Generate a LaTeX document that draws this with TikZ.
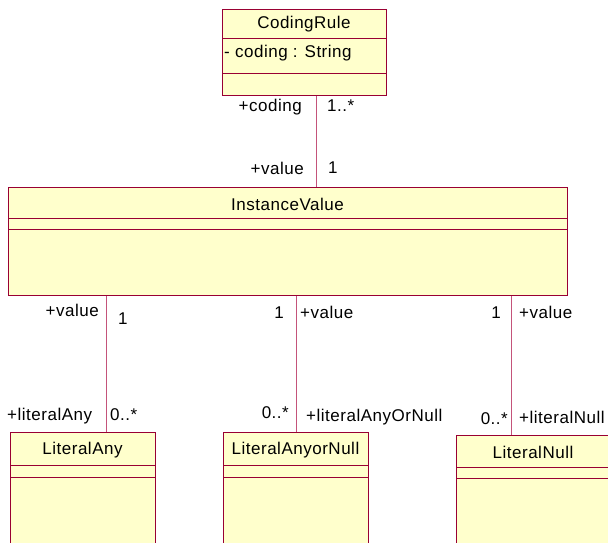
\documentclass[tikz,border=0pt]{standalone}
\usepackage{fontspec}
\setmainfont{Liberation Sans}[LetterSpace=3]
\usepackage{tikz}
\usetikzlibrary{calc}
\usetikzlibrary{positioning}
\usepackage[rgb]{xcolor}

\definecolor{umlfill}{HTML}{FFFFCC}
\definecolor{umlborder}{HTML}{990033}
\definecolor{umlline}{HTML}{C4537A}

\begin{document}
\begin{tikzpicture}[
			x=1pt, y=-1pt,
			every node/.style={
					font=\fontsize{17}{20}\selectfont,
					inner sep=0pt
				},
			classbox/.style={
					draw=umlborder,
					fill=umlfill,
					line width=1pt,
					anchor=north west
				},
			divider/.style={draw=umlborder, line width=1pt},
			assoc/.style={draw=umlline, line width=1pt},
			rolelabel/.style={text height=1.5ex, text depth=0.25ex}
		]
		\useasboundingbox (0,0) rectangle (608,543);
		\clip (0,0) rectangle (608,543);

		% classes
		\node[classbox, minimum width=164pt, minimum height=86pt] (coding) at (222,9) {};
		\node (codingname) at (304,24) {CodingRule};
		\node[anchor=west] (codingattr) at (224,53) {- coding : String};
		\draw[divider] ([yshift=-30pt]coding.north west) -- ([yshift=-30pt]coding.north east);
		\draw[divider] ([yshift=-65pt]coding.north west) -- ([yshift=-65pt]coding.north east);

		\node[classbox, minimum width=559pt, minimum height=108pt] (instance) at (8,187) {};
		\node (instancename) at (287.5,204) {InstanceValue};
		\draw[divider] ([yshift=-31pt]instance.north west) -- ([yshift=-31pt]instance.north east);
		\draw[divider] ([yshift=-42pt]instance.north west) -- ([yshift=-42pt]instance.north east);

		\node[classbox, minimum width=145pt, minimum height=140pt] (any) at (10,432) {};
		\node (anyname) at (82.5,450) {LiteralAny};
		\draw[divider] ([yshift=-33pt]any.north west) -- ([yshift=-33pt]any.north east);
		\draw[divider] ([yshift=-45pt]any.north west) -- ([yshift=-45pt]any.north east);

		\node[classbox, minimum width=145pt, minimum height=140pt] (anyornull) at (223,432) {};
		\node (anyornullname) at (295.5,450) {LiteralAnyorNull};
		\draw[divider] ([yshift=-33pt]anyornull.north west) -- ([yshift=-33pt]anyornull.north east);
		\draw[divider] ([yshift=-45pt]anyornull.north west) -- ([yshift=-45pt]anyornull.north east);

		\node[classbox, minimum width=154pt, minimum height=140pt] (null) at (456,435) {};
		\node (nullname) at (533,452) {LiteralNull};
		\draw[divider] ([yshift=-32pt]null.north west) -- ([yshift=-32pt]null.north east);
		\draw[divider] ([yshift=-43pt]null.north west) -- ([yshift=-43pt]null.north east);

		% associations
		\draw[assoc] ([xshift=12pt]coding.south) -- ([xshift=12pt]coding.south |- instance.north);
		\draw[assoc] ([xshift=23.5pt]any.north) -- ([xshift=23.5pt]any.north |- instance.south);
		\draw[assoc] ([xshift=0.5pt]anyornull.north) -- ([xshift=0.5pt]anyornull.north |- instance.south);
		\draw[assoc] ([xshift=55pt]null.north west) -- ([xshift=55pt]null.north west |- instance.south);

		% role names and multiplicities
		\node[rolelabel, anchor=east] (codingrole) at (302,108) {+coding};
		\node[rolelabel, anchor=west] (codingmult) at (327,108) {1..*};
		\node[rolelabel, anchor=east] (valuerole) at (304,171) {+value};
		\node[rolelabel, anchor=west] (valuemult) at (328,170) {1};

		\node[rolelabel, anchor=east] (anyvalue) at (99,313) {+value};
		\node[rolelabel, anchor=west] (anyvaluemult) at (118,321) {1};
		\node[rolelabel, anchor=west] (anyrole) at (7,417) {+literalAny};
		\node[rolelabel, anchor=west] (anymult) at (110,417) {0..*};

		\node[rolelabel, anchor=east] (anyornullvaluemult) at (284,315) {1};
		\node[rolelabel, anchor=west] (anyornullvalue) at (300,315) {+value};
		\node[rolelabel, anchor=east] (anyornullmult) at (289,415) {0..*};
		\node[rolelabel, anchor=west] (anyornullrole) at (306,418) {+literalAnyOrNull};

		\node[rolelabel, anchor=east] (nullvaluemult) at (501,315) {1};
		\node[rolelabel, anchor=west] (nullvalue) at (519,315) {+value};
		\node[rolelabel, anchor=east] (nullmult) at (508,421) {0..*};
		\node[rolelabel, anchor=west] (nullrole) at (519,420) {+literalNull};

	\end{tikzpicture}
\end{document}
